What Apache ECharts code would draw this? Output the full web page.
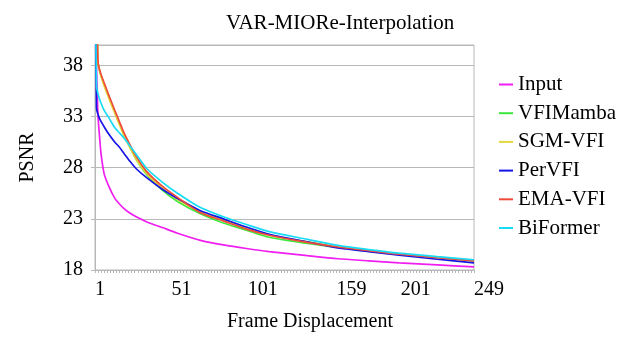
<!DOCTYPE html>
<html>
<head>
<meta charset="utf-8">
<script src="https://cdn.jsdelivr.net/npm/echarts@6/dist/echarts.min.js"></script>
<style>html,body{margin:0;padding:0;background:#fff}#c{width:617px;height:343px}</style>
</head>
<body>
<div id="c"></div>
<script>
const frames   = [1, 2, 3, 4, 5, 7, 10, 14, 17, 20, 24, 28, 35, 45, 55, 70, 85, 100, 115, 140, 160, 180, 200, 225, 249];
const input    = [48, 38, 33, 31.0, 29.3, 27.4, 26.2, 25.0, 24.45, 24.0, 23.55, 23.2, 22.7, 22.15, 21.6, 20.9, 20.45, 20.1, 19.8, 19.4, 19.1, 18.9, 18.7, 18.5, 18.3];
const vfimamba = [48, 44, 38.2, 37.5, 37.0, 36.1, 35.0, 33.4, 32.3, 31.2, 30.0, 28.8, 27.3, 25.8, 24.7, 23.5, 22.6, 21.9, 21.2, 20.6, 20.2, 19.85, 19.55, 19.2, 18.9];
const sgmvfi   = [48, 44, 38.2, 37.5, 36.9, 36.0, 34.8, 33.3, 32.2, 31.1, 29.9, 28.8, 27.4, 26.0, 24.9, 23.7, 22.9, 22.1, 21.4, 20.75, 20.3, 19.95, 19.6, 19.25, 18.95];
const pervfi   = [48, 33.8, 33.2, 32.8, 32.5, 32.0, 31.3, 30.5, 30.0, 29.4, 28.6, 27.9, 27.0, 25.9, 25.0, 23.8, 23.0, 22.2, 21.5, 20.75, 20.15, 19.8, 19.45, 19.05, 18.7];
const emavfi   = [48, 44, 38.3, 37.6, 37.1, 36.3, 35.1, 33.6, 32.5, 31.4, 30.2, 29.1, 27.6, 26.2, 25.1, 23.6, 22.8, 22.0, 21.4, 20.7, 20.25, 19.9, 19.55, 19.2, 18.9];
const biformer = [48, 36.0, 35.2, 34.7, 34.3, 33.6, 32.9, 31.9, 31.4, 30.9, 30.1, 29.3, 27.9, 26.6, 25.5, 24.1, 23.2, 22.45, 21.75, 21.0, 20.4, 20.0, 19.65, 19.3, 19.0];
const xTickLabels = [1, 51, 101, 159, 201, 249];
const yTickLabels = [18, 23, 28, 33, 38];

const names  = ['Input', 'VFIMamba', 'SGM-VFI', 'PerVFI', 'EMA-VFI', 'BiFormer'];
const values = [input, vfimamba, sgmvfi, pervfi, emavfi, biformer];
const colors = ['#f01ef0', '#3de83d', '#e3d83a', '#1414e6', '#f04a3c', '#18dcf5'];
const serif = '"Liberation Serif", "DejaVu Serif", serif';

const chart = echarts.init(document.getElementById('c'), null, {renderer: 'canvas'});
chart.setOption({
  animation: false,
  backgroundColor: '#fff',
  textStyle: {fontFamily: serif},
  title: {
    text: 'VAR-MIORe-Interpolation',
    left: 221, top: 8,
    textStyle: {fontFamily: serif, fontSize: 21, fontWeight: 'normal', color: '#000'}
  },
  legend: {
    orient: 'vertical',
    left: 494, top: 69,
    itemWidth: 14, itemHeight: 2, itemGap: 7.7,
    icon: 'path://M0,0 L14,0 L14,2 L0,2 Z',
    textStyle: {fontFamily: serif, fontSize: 21, color: '#000', lineHeight: 21},
    data: names
  },
  grid: {left: 95, right: 143, top: 45, bottom: 73, show: true, borderColor: '#b8b8b8', borderWidth: 1},
  xAxis: {
    type: 'value', min: 1, max: 249, interval: 2,
    name: 'Frame Displacement', nameLocation: 'middle', nameGap: 42,
    nameTextStyle: {fontFamily: serif, fontSize: 20, color: '#000', padding: [0, 0, 0, 51]},
    axisLine: {show: true, lineStyle: {color: '#b8b8b8'}},
    axisTick: {show: true, length: 3, lineStyle: {color: '#b8b8b8'}},
    axisLabel: {customValues: xTickLabels, align: 'left', margin: 10, fontFamily: serif, fontSize: 20, color: '#000'},
    splitLine: {show: false}
  },
  yAxis: {
    type: 'value', min: 18, max: 40, interval: 5,
    name: 'PSNR', nameLocation: 'middle', nameGap: 57,
    nameTextStyle: {fontFamily: serif, fontSize: 20, color: '#000'},
    axisLine: {show: true, lineStyle: {color: '#b8b8b8'}},
    axisTick: {show: true, length: 4, lineStyle: {color: '#b8b8b8'}},
    axisLabel: {showMaxLabel: false, margin: 12, fontFamily: serif, fontSize: 20, color: '#000',
      formatter: v => (yTickLabels.indexOf(v) >= 0 ? String(v) : '')},
    splitLine: {show: true, lineStyle: {color: '#b8b8b8'}}
  },
  series: names.map((n, i) => ({
    name: n, type: 'line', clip: true,
    data: frames.map((f, j) => [f, values[i][j]]),
    showSymbol: false, symbol: 'none',
    smooth: 0.25,
    lineStyle: {width: 1.7, color: colors[i]},
    itemStyle: {color: colors[i]}
  }))
});
</script>
</body>
</html>
